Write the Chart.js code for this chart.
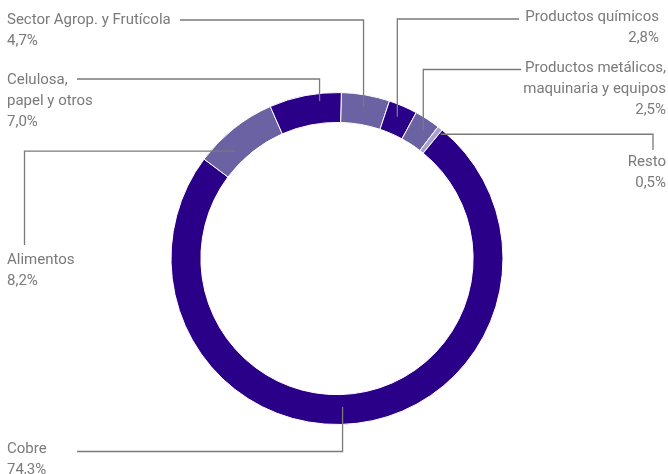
<!DOCTYPE html>
<html>
<head>
<meta charset="utf-8">
<script src="https://cdn.jsdelivr.net/npm/chart.js@4"></script>
<style>
  html, body { margin: 0; padding: 0; background: #fff; }
  canvas { display: block; }
</style>
</head>
<body>
<canvas id="chart" width="668" height="474"></canvas>
<script>
// categories, in clockwise order starting at the top
const categories = [
  ['Sector Agrop. y Frutícola'],
  ['Productos químicos'],
  ['Productos metálicos,', 'maquinaria y equipos'],
  ['Resto'],
  ['Cobre'],
  ['Alimentos'],
  ['Celulosa,', 'papel y otros']
];
const shares = [4.7, 2.8, 2.5, 0.5, 74.3, 8.2, 7.0];
const colors = ['#6b62a3', '#2a0088', '#6b62a3', '#a8a3cc', '#2a0088', '#6b62a3', '#2a0088'];

// label placement: text anchor, alignment, leader line elbow
// frac = where on the arc the leader starts, rf = radial fraction within the ring
const callouts = [
  { x: 7,   y: 23.5, align: 'left',  frac: 0.5,  rf: 0.58, mode: 'v', lineY: 20,   endX: 180 },
  { x: 659, y: 21,   align: 'right', frac: 0.46, rf: 0.6,  mode: 'v', lineY: 19,   endX: 519 },
  { x: 666, y: 72,   align: 'right', frac: 0.6,  rf: 0.62, mode: 'v', lineY: 69.5, endX: 521 },
  { x: 666, y: 166,  align: 'right', frac: 1.3,  rf: 0.86, mode: 'h', lineX: 653,  endY: 150 },
  { x: 7,   y: 452.5,align: 'left',  frac: 0.518,rf: 0.42, mode: 'v', lineY: 451.5,endX: 77 },
  { x: 7,   y: 264,  align: 'left',  frac: 0.33, rf: 0.4,  mode: 'h', lineX: 24.5, endY: 245 },
  { x: 7,   y: 83.5, align: 'left',  frac: 0.69, rf: 0.75, mode: 'v', lineY: 79,   endX: 77 }
];

const fmt = (v) => v.toFixed(1).replace('.', ',') + '%';

const calloutPlugin = {
  id: 'callouts',
  afterDraw(chart) {
    const ctx = chart.ctx;
    const arcs = chart.getDatasetMeta(0).data;
    ctx.save();
    ctx.strokeStyle = '#7a7a7a';
    ctx.lineWidth = 1.3;
    ctx.fillStyle = '#7a7a7a';
    ctx.font = '15px Roboto, "Noto Sans", sans-serif';
    callouts.forEach((c, i) => {
      const p = arcs[i].getProps(['x', 'y', 'startAngle', 'endAngle', 'innerRadius', 'outerRadius'], true);
      const a = p.startAngle + (p.endAngle - p.startAngle) * c.frac;
      const r = p.innerRadius + (p.outerRadius - p.innerRadius) * c.rf;
      const ax = p.x + Math.cos(a) * r;
      const ay = p.y + Math.sin(a) * r;
      ctx.beginPath();
      ctx.moveTo(ax, ay);
      if (c.mode === 'v') {
        ctx.lineTo(ax, c.lineY);
        ctx.lineTo(c.endX, c.lineY);
      } else {
        ctx.lineTo(c.lineX, ay);
        ctx.lineTo(c.lineX, c.endY);
      }
      ctx.stroke();

      ctx.textAlign = c.align;
      ctx.textBaseline = 'alphabetic';
      const lines = categories[i].concat([fmt(shares[i])]);
      lines.forEach((t, k) => ctx.fillText(t, c.x, c.y + k * 21));
    });
    ctx.restore();
  }
};

new Chart(document.getElementById('chart'), {
  type: 'doughnut',
  data: {
    labels: categories.map((l) => l.join(' ')),
    datasets: [{
      data: shares,
      backgroundColor: colors,
      borderColor: '#ffffff',
      borderWidth: 1
    }]
  },
  options: {
    responsive: false,
    animation: false,
    rotation: 1.5,
    cutout: '82%',
    layout: { padding: { top: 92, bottom: 49, left: 170, right: 164 } },
    plugins: {
      legend: { display: false },
      tooltip: { enabled: false }
    }
  },
  plugins: [calloutPlugin]
});
</script>
</body>
</html>
